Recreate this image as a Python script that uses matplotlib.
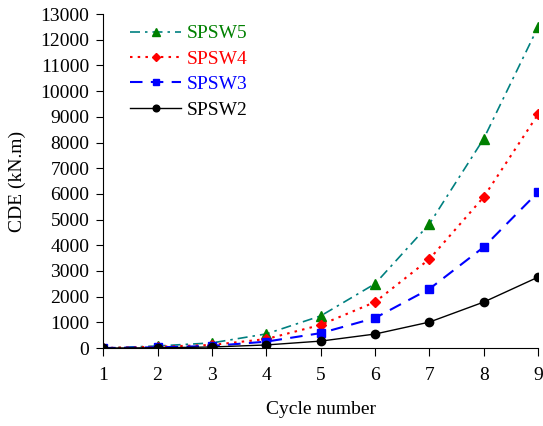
import matplotlib
matplotlib.use("Agg")
import matplotlib.pyplot as plt

# 사이클별 CDE 값 (kN.m)
cycles = [1, 2, 3, 4, 5, 6, 7, 8, 9]
spsw5 = [0, 80, 200, 550, 1250, 2500, 4830, 8150, 12500]
spsw4 = [0, 50, 120, 350, 900, 1790, 3460, 5880, 9100]
spsw3 = [0, 30, 80, 250, 580, 1170, 2300, 3930, 6070]
spsw2 = [0, 10, 40, 120, 270, 545, 1010, 1790, 2760]
y_ticks = list(range(0, 13001, 1000))

plt.rcParams["font.family"] = ["Liberation Serif", "DejaVu Serif"]
plt.rcParams["font.size"] = 14

fig = plt.figure(figsize=(5.43, 4.26), dpi=100)
ax = fig.add_axes([0.19, 0.183, 0.801, 0.784])

ax.plot(cycles, spsw5, color="#008080", linestyle=(0, (6, 3, 1.5, 3)), linewidth=1.2,
        marker="^", markersize=7, markerfacecolor="green", markeredgecolor="green", label="SPSW5")
ax.plot(cycles, spsw4, color="red", linestyle=(0, (1.2, 2.5)), linewidth=1.5,
        marker="D", markersize=5.5, markerfacecolor="red", markeredgecolor="red", label="SPSW4")
ax.plot(cycles, spsw3, color="blue", linestyle=(0, (6, 4)), linewidth=1.5,
        marker="s", markersize=6, markerfacecolor="blue", markeredgecolor="blue", label="SPSW3")
ax.plot(cycles, spsw2, color="black", linewidth=1.0,
        marker="o", markersize=6, label="SPSW2")

ax.set_xlim(1, 9)
ax.set_ylim(0, 13000)
ax.set_xticks(cycles)
ax.set_yticks(y_ticks)
ax.spines["top"].set_visible(False)
ax.spines["right"].set_visible(False)
ax.tick_params(axis="y", direction="out", length=5, pad=5)
ax.tick_params(axis="x", direction="out", length=6, pad=8)
ax.set_xlabel("Cycle number", labelpad=12)
ax.set_ylabel("CDE (kN.m)", labelpad=10)

leg = ax.legend(loc="upper left", bbox_to_anchor=(0.022, 1.02), frameon=False, markerscale=0.8,
                handlelength=2.6, handletextpad=0.3, fontsize=14, labelspacing=0.4)
for text, line in zip(leg.get_texts(), leg.get_lines()):
    c = line.get_markerfacecolor()
    text.set_color("black" if text.get_text() == "SPSW2" else c)

fig.savefig("out.png", dpi=100)
